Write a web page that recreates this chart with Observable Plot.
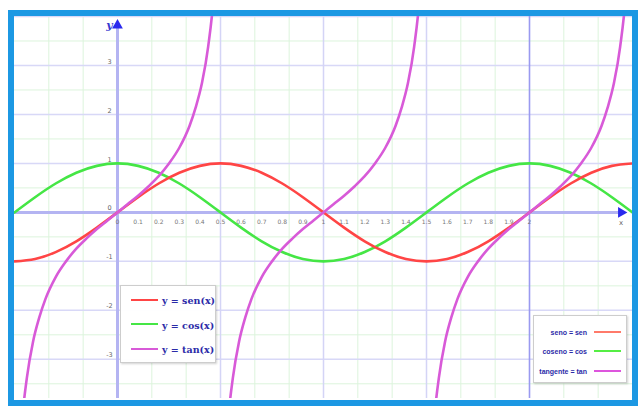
<!DOCTYPE html>
<html><head><meta charset="utf-8">
<script src="https://cdn.jsdelivr.net/npm/d3@7"></script>
<script src="https://cdn.jsdelivr.net/npm/@observablehq/plot@0.6"></script>
<style>
body{margin:0;background:#fff;}
#wrap{position:relative;width:640px;height:407px;overflow:hidden;background:#fff;}
#border{position:absolute;left:8px;top:10px;width:630px;height:396px;box-sizing:border-box;border:6px solid #1c98e3;pointer-events:none;}
.leg{position:absolute;background:rgba(255,255,255,0.97);border:1px solid #cdcdcd;box-shadow:1px 1px 2px rgba(0,0,0,0.18);box-sizing:border-box;}
.leg .row{position:absolute;left:0;right:0;height:0;}
.leg .ln{position:absolute;height:0;}
.leg .tx{position:absolute;white-space:nowrap;color:#2b2ba8;font-weight:bold;transform:translateY(-50%);}
#legA .tx{font-family:"DejaVu Serif","Liberation Serif",serif;font-size:9.5px;left:41px;}
#legB .tx{font-family:"Liberation Sans",Arial,sans-serif;font-size:7px;right:39px;}
</style></head>
<body><div id="wrap"></div>
<script>
// x positions in units of π (from -π/2 to 5π/2, step π/10)
const xPi = [-0.5,-0.4,-0.3,-0.2,-0.1,0,0.1,0.2,0.3,0.4,0.5,0.6,0.7,0.8,0.9,1,1.1,1.2,1.3,1.4,1.5,1.6,1.7,1.8,1.9,2,2.1,2.2,2.3,2.4,2.5];
const sinVals = [-1,-0.95,-0.81,-0.59,-0.31,0,0.31,0.59,0.81,0.95,1,0.95,0.81,0.59,0.31,0,-0.31,-0.59,-0.81,-0.95,-1,-0.95,-0.81,-0.59,-0.31,0,0.31,0.59,0.81,0.95,1];
const cosVals = [0,0.31,0.59,0.81,0.95,1,0.95,0.81,0.59,0.31,0,-0.31,-0.59,-0.81,-0.95,-1,-0.95,-0.81,-0.59,-0.31,0,0.31,0.59,0.81,0.95,1,0.95,0.81,0.59,0.31,0];
// tangent branch shape: offset from branch centre (units of π) and value
const tanOffsets = [-0.5,-0.47,-0.44,-0.41,-0.38,-0.35,-0.3,-0.25,-0.2,-0.15,-0.1,-0.05,0,0.05,0.1,0.15,0.2,0.25,0.3,0.35,0.38,0.41,0.44,0.47,0.5];
const tanVals = [-7.05,-4.58,-3.38,-2.64,-2.15,-1.77,-1.32,-1,-0.74,-0.53,-0.34,-0.17,0,0.17,0.34,0.53,0.74,1,1.32,1.77,2.15,2.64,3.38,4.58,7.05];
const tanCentres = [0,1,2];
const yTicks = [-3,-2,-1,0,1,2,3];
const yTickLabels = ["-3","-2","-1","0","1","2","3"];
const xTicks = [0,0.1,0.2,0.3,0.4,0.5,0.6,0.7,0.8,0.9,1,1.1,1.2,1.3,1.4,1.5,1.6,1.7,1.8,1.9,2];
const xTickLabels = ["0","0.1","0.2","0.3","0.4","0.5","0.6","0.7","0.8","0.9","1","1.1","1.2","1.3","1.4","1.5","1.6","1.7","1.8","1.9","2"];
const majorX = [0.5,1,1.5];
const strongX = [2];
const majorY = [-3,-2,-1,1,2,3,4];
const minorY = [-3.5,-2.5,-1.5,-0.5,0.5,1.5,2.5,3.5];
const minorX = [-1/3,-1/6,1/6,1/3,2/3,5/6,7/6,4/3,5/3,11/6,13/6,7/3];
const xAxisEnd = [2.445];
const yAxisEnd = [3.82];
const legendA = ["y = sen(x)","y = cos(x)","y = tan(x)"];
const legendB = ["seno = sen","coseno = cos","tangente = tan"];
const colors = ["#ff4545","#45e645","#d85ad8"];
const legendBColors = ["#ff7a6a","#55ee44","#dd55dd"];

const curveRows = xPi.map((x,i)=>({x, sin: sinVals[i], cos: cosVals[i]}));
const tanRows = tanCentres.flatMap(c => tanOffsets.map((u,i)=>({x: c+u, y: tanVals[i], b: c})));

const chart = Plot.plot({
  width: 640, height: 407,
  marginLeft: 14, marginRight: 8, marginTop: 16, marginBottom: 9,
  x: {domain: [-0.5, 2.5], axis: null},
  y: {domain: [-3.8, 4], axis: null},
  style: {background: "#fff"},
  marks: [
    Plot.ruleY(minorY, {stroke: "#dcf4dc", strokeWidth: 1}),
    Plot.ruleX(minorX, {stroke: "#dcf4dc", strokeWidth: 1}),
    Plot.ruleY(majorY, {stroke: "#d8d8f7", strokeWidth: 1.5}),
    Plot.ruleX(majorX, {stroke: "#d4d4f6", strokeWidth: 1.5}),
    Plot.ruleX(strongX, {stroke: "#9a9af0", strokeWidth: 1.6}),
    Plot.ruleY([0], {x1: -0.5, x2: xAxisEnd[0], stroke: "#b4b4f2", strokeWidth: 3}),
    Plot.ruleX([0], {y1: -3.8, y2: yAxisEnd[0], stroke: "#b4b4f2", strokeWidth: 3}),
    Plot.text(xTicks, {x: d=>d, y: 0, text: (d,i)=>xTickLabels[i], dy: 10, fontSize: 6, fill: "#777", fontFamily: "DejaVu Sans"}),
    Plot.text(yTicks, {x: 0, y: d=>d, text: (d,i)=>yTickLabels[i], dx: -8, dy: -4, fontSize: 6.5, fill: "#666", fontFamily: "DejaVu Sans"}),
    Plot.line(curveRows, {x: "x", y: "cos", stroke: colors[1], strokeWidth: 2.6, curve: "natural", clip: true}),
    Plot.line(curveRows, {x: "x", y: "sin", stroke: colors[0], strokeWidth: 2.6, curve: "natural", clip: true}),
    Plot.line(tanRows, {x: "x", y: "y", z: "b", stroke: colors[2], strokeWidth: 2.6, curve: "monotone-x", clip: true}),
    Plot.dot(xAxisEnd, {x: d=>d, y: 0, symbol: "triangle", rotate: 90, r: 4, fill: "#2a2aee", stroke: "none"}),
    Plot.dot(yAxisEnd, {x: 0, y: d=>d, symbol: "triangle", r: 4, fill: "#2a2aee", stroke: "none"}),
    Plot.text(yAxisEnd, {x: 0, y: d=>d, text: ()=>"y", dx: -8, dy: 0, fontSize: 11, fontWeight: "bold", fontStyle: "italic", fill: "#3a3ad0", fontFamily: "DejaVu Serif"}),
    Plot.text(xAxisEnd, {x: d=>d, y: 0, text: ()=>"x", dy: 10, fontSize: 7, fill: "#666", fontFamily: "DejaVu Sans"})
  ]
});

const wrap = document.getElementById("wrap");
wrap.appendChild(chart);
const border = document.createElement("div");
border.id = "border";
wrap.appendChild(border);

function legend(id, left, top, w, h, labels, cols, rowsY, lineLeft, lineW, lineSW){
  const d = document.createElement("div");
  d.className = "leg"; d.id = id;
  Object.assign(d.style, {left: left+"px", top: top+"px", width: w+"px", height: h+"px"});
  labels.forEach((t,i)=>{
    const r = document.createElement("div");
    r.className = "row"; r.style.top = rowsY[i]+"px";
    const l = document.createElement("div");
    l.className = "ln";
    Object.assign(l.style, {left: lineLeft+"px", width: lineW+"px", top: (-lineSW/2)+"px", borderTop: lineSW+"px solid "+cols[i]});
    const s = document.createElement("div");
    s.className = "tx"; s.textContent = t;
    r.appendChild(l); r.appendChild(s); d.appendChild(r);
  });
  wrap.appendChild(d);
}
legend("legA", 120, 285, 96, 78, legendA, colors, [14, 38.5, 63], 10, 27, 2.6);
legend("legB", 533, 315, 94, 68, legendB, legendBColors, [16, 35, 55], 60, 27, 2);
</script>
</body></html>
